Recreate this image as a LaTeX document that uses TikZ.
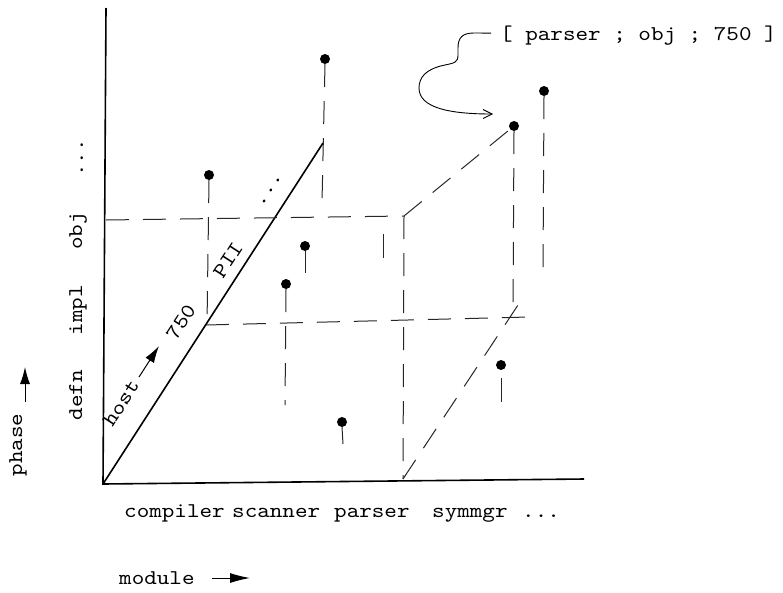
\documentclass[tikz,border=0pt]{standalone}
\usepackage{fontspec}
\newfontfamily\courfont[FakeStretch=1.14]{lmmono10-regular.otf}
\usetikzlibrary{arrows.meta}
\begin{document}
\begin{tikzpicture}[x=1pt,y=-1pt,
  lbl/.style={font=\courfont\fontsize{21}{25}\selectfont, inner sep=0pt},
  dot/.style={circle, fill=black, inner sep=0pt, minimum size=10pt},
  axis/.style={line width=1.6pt, black},
  gridline/.style={line width=1pt, black!85, dash pattern=on 23pt off 14pt},
  stem/.style={line width=1pt, black!85},
  bigarrow/.style={line width=1pt, -{Latex[length=17pt,width=10pt]}},
  callarrow/.style={line width=0.9pt, -{Straight Barb[length=9pt,width=9pt]}}]
\useasboundingbox (0,0) rectangle (783,592);
% axes
\coordinate (O) at (103,484);
\coordinate (Ytop) at (106,8);
\coordinate (Xend) at (584,479);
\coordinate (Dend) at (323,143);
\draw[axis] (Ytop) -- (O) -- (Xend);
\draw[axis] (O) -- (Dend);
% dots
\node[dot] (A) at (325,59) {};
\node[dot] (B) at (209,175) {};
\node[dot] (C) at (305,246) {};
\node[dot] (D) at (286,284) {};
\node[dot] (E) at (342,422) {};
\node[dot] (F) at (501,365) {};
\node[dot] (G) at (514,126) {};
\node[dot] (H) at (544,91) {};
% grid lines
\coordinate (objL) at (106,220);
\coordinate (P) at (404,216);
\coordinate (Pb) at (403,479);
\coordinate (implL) at (206,325);
\coordinate (implR) at (529,317);
\coordinate (diagEnd) at (520,302);
\coordinate (s1) at (383,234);
\coordinate (s2) at (383,258);
\draw[gridline] (objL) -- (P);
\draw[gridline] (P) -- (G);
\draw[gridline] (P) -- (Pb);
\draw[gridline] (Pb) -- (diagEnd);
\draw[gridline] (implL) -- (implR);
\draw[stem] (s1) -- (s2);
% drop lines
\coordinate (Ab) at (322,202);
\coordinate (Bb) at (207,325);
\coordinate (Cb) at (305,273);
\coordinate (Db) at (285,405);
\coordinate (Eb) at (343,444);
\coordinate (Ft) at (501,378);
\coordinate (Fb) at (501,402);
\coordinate (Gb) at (513,309);
\coordinate (Hb) at (543,268);
\draw[gridline] (A.south) -- (Ab);
\draw[gridline] (B.south) -- (Bb);
\draw[stem] (C.south) -- (Cb);
\draw[gridline] (D.south) -- (Db);
\draw[stem] (E.south) -- (Eb);
\draw[stem] (Ft) -- (Fb);
\draw[gridline] (G.south) -- (Gb);
\draw[gridline] (H.south) -- (Hb);
% phase axis labels
\node[lbl, rotate=90, anchor=base] (ydots) at (83,158) {...};
\node[lbl, rotate=90, anchor=base] (obj) at (82,231) {obj};
\node[lbl, rotate=90, anchor=base] (impl) at (82,310) {impl};
\node[lbl, rotate=90, anchor=base] (defn) at (82,395) {defn};
\node[lbl, rotate=90, anchor=base] (phase) at (22,445) {phase};
\coordinate (ph0) at (25,402);
\coordinate (ph1) at (25,367);
\draw[bigarrow] (ph0) -- (ph1);
% module axis labels
\node[lbl, anchor=base west] (compiler) at (124,517) {compiler};
\node[lbl, anchor=base west] (scanner) at (232,517) {scanner};
\node[lbl, anchor=base west] (parser) at (334,517) {parser};
\node[lbl, anchor=base west] (symmgr) at (432,517) {symmgr};
\node[lbl, anchor=base west] (xdots) at (522,517) {...};
\node[lbl, anchor=base west] (module) at (119,584) {module};
\coordinate (mo0) at (212,578);
\coordinate (mo1) at (250,578);
\draw[bigarrow, -{Latex[length=20pt,width=10pt]}] (mo0) -- (mo1);
% depth axis labels
\node[lbl, rotate=57.2] (host) at (121,403) {host};
\coordinate (ho0) at (139,377);
\coordinate (ho1) at (159,346);
\draw[bigarrow] (ho0) -- (ho1);
\node[lbl, rotate=57.2] (n750) at (181,322) {750};
\node[lbl, rotate=57.2] (pii) at (228,260) {PII};
\node[lbl, rotate=57.2] (ddots) at (271,191) {...};
% callout
\node[lbl, anchor=base west] (callout) at (500,40) {[ parser ; obj ; 750 ]};
\coordinate (tip) at (493,114);
\draw[callarrow] (callout.west) ++(-9,-2) -- (474,33)
  .. controls (462,33) and (458,38) .. (458,48) -- (458,55)
  .. controls (458,62) and (455,63) .. (445,65)
  .. controls (425,69) and (419,78) .. (419,88)
  .. controls (419,108) and (450,114) .. (tip);
\end{tikzpicture}
\end{document}
